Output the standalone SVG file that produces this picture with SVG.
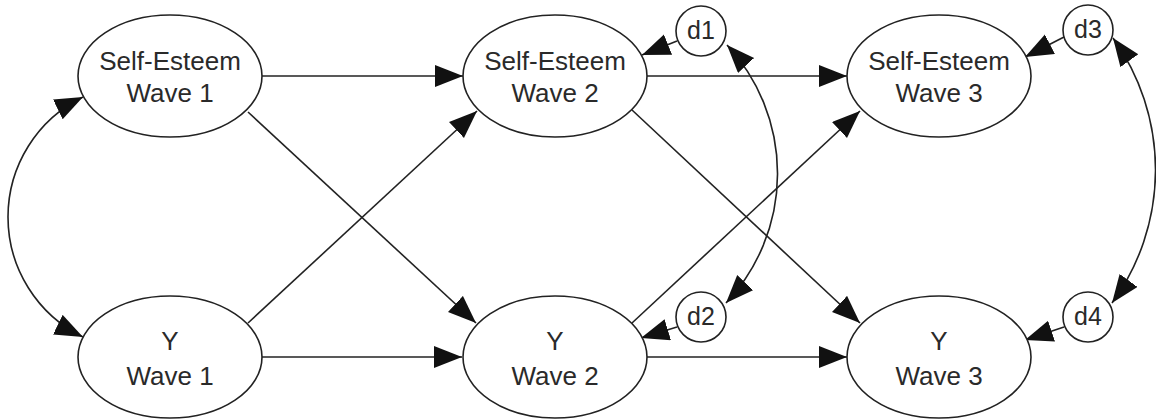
<svg xmlns="http://www.w3.org/2000/svg" width="1156" height="419" viewBox="0 0 1156 419">
<style>
.n{fill:#fff;stroke:#222;stroke-width:1.6}
.t{font-family:"Liberation Sans",Arial,sans-serif;font-size:26px;fill:#2a2a2a;text-anchor:middle}
.ts{font-family:"Liberation Sans",Arial,sans-serif;font-size:25px;fill:#2a2a2a;text-anchor:middle}
.e{fill:none;stroke:#222;stroke-width:1.6;marker-end:url(#ah)}
.b{fill:none;stroke:#222;stroke-width:1.6;marker-start:url(#ah);marker-end:url(#ah)}
</style>
<defs>
<marker id="ah" markerUnits="userSpaceOnUse" markerWidth="29" markerHeight="23" refX="28" refY="11" orient="auto-start-reverse" viewBox="0 0 29 23">
<path d="M0,0 L28,11 L0,22 z" fill="#111"/>
</marker>
</defs>
<rect width="1156" height="419" fill="#fff"/>
<g id="connectors">
<path class="e" d="M262,76 L463,76"/>
<path class="e" d="M262,357 L462,357"/>
<path class="e" d="M248,112 L476,323"/>
<path class="e" d="M248,323 L477,111"/>
<path class="e" d="M646,76 L847,76"/>
<path class="e" d="M646,357 L847,357"/>
<path class="e" d="M632,110 L860,323"/>
<path class="e" d="M632,323 L860,111"/>
<path class="e" d="M677,41 L642,55"/>
<path class="e" d="M677,327 L641,338"/>
<path class="e" d="M1064,37 L1025,57"/>
<path class="e" d="M1064,327 L1025,340"/>
<path class="b" d="M83,97 A133.5 133.5 0 0 0 83,337"/>
<path class="b" d="M727,45 A188.6 188.6 0 0 1 726,303"/>
<path class="b" d="M1113,38 A225.6 225.6 0 0 1 1112,303"/>
</g>
<g id="se1"><ellipse class="n" cx="170" cy="76" rx="92" ry="61"/><text class="t" x="170" y="70">Self-Esteem</text><text class="t" x="170" y="102">Wave 1</text></g>
<g id="se2"><ellipse class="n" cx="555" cy="76" rx="92" ry="61"/><text class="t" x="555" y="70">Self-Esteem</text><text class="t" x="555" y="102">Wave 2</text></g>
<g id="se3"><ellipse class="n" cx="939" cy="76" rx="92" ry="61"/><text class="t" x="939" y="70">Self-Esteem</text><text class="t" x="939" y="102">Wave 3</text></g>
<g id="y1"><ellipse class="n" cx="170" cy="357" rx="92" ry="61"/><text class="t" x="170" y="350">Y</text><text class="t" x="170" y="385">Wave 1</text></g>
<g id="y2"><ellipse class="n" cx="555" cy="357" rx="92" ry="61"/><text class="t" x="555" y="350">Y</text><text class="t" x="555" y="385">Wave 2</text></g>
<g id="y3"><ellipse class="n" cx="939" cy="357" rx="92" ry="61"/><text class="t" x="939" y="350">Y</text><text class="t" x="939" y="385">Wave 3</text></g>
<g id="d1"><circle class="n" cx="701" cy="31" r="25"/><text class="ts" x="701" y="39">d1</text></g>
<g id="d2"><circle class="n" cx="701" cy="317" r="25"/><text class="ts" x="701" y="325">d2</text></g>
<g id="d3"><circle class="n" cx="1088" cy="30" r="25"/><text class="ts" x="1088" y="38">d3</text></g>
<g id="d4"><circle class="n" cx="1088" cy="317" r="25"/><text class="ts" x="1088" y="325">d4</text></g>
</svg>
